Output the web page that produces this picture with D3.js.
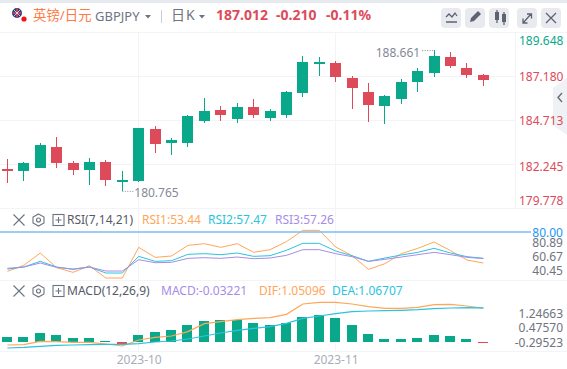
<!DOCTYPE html>
<html><head><meta charset="utf-8">
<script src="https://cdn.jsdelivr.net/npm/d3@7/dist/d3.min.js"></script>
<style>html,body{margin:0;padding:0;background:#fff;overflow:hidden}svg{display:block}text{font-family:"Noto Sans","Noto Sans CJK SC",sans-serif}</style>
</head><body><div id="c"></div>
<script>
const opens=[181.981,181.886,182.054,183.215,182.318,181.942,182.374,181.269,181.325,184.225,183.456,183.456,184.69,185.29,184.802,185.458,184.858,185.01,186.244,187.87,187.926,187.085,186.3,185.515,185.907,186.86,187.365,188.262,187.646,187.253];
const highs=[182.542,182.374,183.44,183.776,182.43,182.598,182.525,181.869,184.281,184.393,183.72,185.01,185.963,185.515,185.683,185.907,185.346,186.356,188.319,188.262,188.038,187.197,186.804,186.131,187.029,187.646,188.661,188.543,187.926,187.309];
const lows=[181.213,181.325,182.038,182.054,181.662,181.101,181.045,180.765,181.252,182.879,182.783,183.232,184.578,184.69,184.578,184.858,184.69,184.842,186.019,187.197,186.86,185.346,184.617,184.505,185.627,186.3,187.141,187.646,187.085,186.636];
const closes=[181.869,182.318,183.327,182.335,181.942,182.374,181.381,181.365,184.281,183.4,183.608,184.954,185.234,185.027,185.458,185.027,185.234,186.3,187.982,187.982,187.141,186.524,185.571,186.075,186.86,187.477,188.319,187.758,187.253,187.012];
const rsi1=[46.29,51.43,62,49.43,45.43,51.14,40.57,40.57,66.86,58.29,59.43,68.57,70,66.86,70,62.57,64.86,71.71,81.43,81.43,67.14,59.71,48,52.86,61.43,66,71.43,64,56,53.44];
const rsi2=[48.29,50,54.86,50,48,50,44.86,44.86,59.14,54.86,55.43,60.86,61.43,60.57,62,59.14,59.71,64.29,70.29,70.29,63.71,59.71,54.86,57.71,60.29,62.57,66,62,58.86,57.47];
const rsi3=[48.86,50,53.43,49.71,48.29,50,46.57,46.57,56.29,53.71,54,57.43,58,57.43,58.57,57.14,57.71,60,64.86,64.86,61.43,58.86,54.86,56.57,58.57,60.57,62.57,60.57,58.29,57.26];
const macdBars=[.156,.156,.281,.219,.125,.125,.031,-.0625,.219,.312,.375,.531,.656,.687,.687,.594,.531,.594,.781,.844,.75,.531,.25,.094,.094,.125,.219,.187,.094,-.032];
const dif=[-.094,-.083,.021,.01,-.01,-.01,-.0625,-.125,.0625,.146,.1875,.323,.573,.635,.698,.74,.76,.865,1.1875,1.24,1.24,1.1875,1.104,1.052,1.052,1.083,1.167,1.177,1.125,1.051];
const dea=[-.1875,-.167,-.135,-.104,-.094,-.083,-.073,-.073,-.052,0,.031,.094,.1875,.281,.365,.427,.479,.583,.74,.8125,.885,.948,.969,.979,.99,1.01,1.042,1.0625,1.073,1.067];
const priceTicks=[189.648,187.180,184.713,182.245,179.778];
const rsiTicks=[80.89,60.67,40.45];
const rsiLevel=80;
const macdTicks=[1.24663,0.47570,-0.29523];
const dateTickIndex=[8,20];
const dateTickLabels=["2023-10","2023-11"];

const W=567,H=369,GREEN="#0aa88a",RED="#dd4b5a",GRID="#f3f4f7",ORANGE="#ffa65a",CYAN="#2cc3de",PURPLE="#a78ce9",GREY="#6f7480";
const svg=d3.select("#c").append("svg").attr("width",W).attr("height",H);
svg.append("rect").attr("width",W).attr("height",3).attr("fill","#e6e9ee");

const x=d3.scaleLinear().domain([0,29]).range([7.4,483.4]);
const yP=d3.scaleLinear().domain([189.648,179.778]).range([32.5,208.5]);
const yR=d3.scaleLinear().domain([80,40]).range([232,278.7]);
const yRLabel=d3.scaleLinear().domain([80.89,40.45]).range([243,271]);
const yM=d3.scaleLinear().domain([0,1.0625]).range([342,308]);
const yMLabel=d3.scaleLinear().domain([1.24663,-0.29523]).range([313.5,342.5]);

// grid
const grid=svg.append("g").attr("stroke",GRID).attr("shape-rendering","crispEdges");
priceTicks.forEach(t=>grid.append("line").attr("x1",0).attr("x2",515).attr("y1",Math.floor(yP(t))+.5).attr("y2",Math.floor(yP(t))+.5));
[280.5,351.5].forEach(v=>grid.append("line").attr("x1",0).attr("x2",W).attr("y1",v).attr("y2",v));
grid.append("line").attr("x1",0).attr("x2",W).attr("y1",32.5).attr("y2",32.5);
grid.append("line").attr("x1",0).attr("x2",W).attr("y1",208.5).attr("y2",208.5);
dateTickIndex.forEach(i=>grid.append("line").attr("x1",Math.floor(x(i))+.5).attr("x2",Math.floor(x(i))+.5).attr("y1",33).attr("y2",351));
grid.append("line").attr("x1",515.5).attr("x2",515.5).attr("y1",33).attr("y2",208);

// side handle
svg.append("path").attr("d","M567,78L553,88V125L567,135Z").attr("fill","#f0f1f4");
svg.append("path").attr("d","M562,93L558,97.5L562,102").attr("fill","none").attr("stroke","#666c78").attr("stroke-width",1.4);

// candles
const candles=svg.append("g").attr("shape-rendering","crispEdges").selectAll("g").data(opens).join("g")
  .attr("fill",(d,i)=>closes[i]>=d?GREEN:RED);
candles.append("rect").attr("x",(d,i)=>Math.floor(x(i))).attr("width",1)
  .attr("y",(d,i)=>yP(highs[i])).attr("height",(d,i)=>yP(lows[i])-yP(highs[i]));
candles.append("rect").attr("x",(d,i)=>Math.floor(x(i))-5).attr("width",11)
  .attr("y",(d,i)=>yP(Math.max(d,closes[i]))).attr("height",(d,i)=>Math.max(1,Math.abs(yP(d)-yP(closes[i]))));

// high / low annotation
const hiI=d3.maxIndex(highs),loI=d3.minIndex(lows);
function dots(x1,x2,y){svg.append("line").attr("x1",x1).attr("x2",x2).attr("y1",y).attr("y2",y).attr("stroke","#8c909c").attr("stroke-dasharray","1 1.5");}
dots(x(hiI)-12,x(hiI),yP(highs[hiI])+.5);
dots(x(loI),x(loI)+12,yP(lows[loI])+.5);
svg.append("text").attr("x",x(hiI)-14).attr("y",yP(highs[hiI])+6.5).attr("text-anchor","end").attr("font-size",12).attr("fill","#858995").text(d3.format(".3f")(highs[hiI]));
svg.append("text").attr("x",x(loI)+12).attr("y",yP(lows[loI])+6.5).attr("font-size",12).attr("fill","#858995").text(d3.format(".3f")(lows[loI]));

// price axis
const priceShift=[8,0.5,0.5,2.5,-8];
const gP=svg.append("g").attr("transform","translate(519,0)").call(d3.axisRight(yP).tickValues(priceTicks).tickFormat(d3.format(".3f")).tickSize(0).tickPadding(0));
gP.select(".domain").remove();
gP.selectAll("text").attr("font-size",12).style("font-family",'"Noto Sans"').attr("fill",(d,i)=>i===0?GREEN:RED).attr("transform",(d,i)=>`translate(0,${priceShift[i]})`);

// RSI
function lineOf(vals,ys,color,w){svg.append("path").attr("fill","none").attr("stroke",color).attr("stroke-width",w)
  .attr("d",d3.line().x((d,i)=>x(i)).y(d=>ys(d))(vals));}
lineOf(rsi1,yR,ORANGE,1);lineOf(rsi2,yR,CYAN,1);lineOf(rsi3,yR,PURPLE,1);
svg.append("line").attr("x1",0).attr("x2",531).attr("y1",yR(rsiLevel)).attr("y2",yR(rsiLevel)).attr("stroke","#7cbcf0").attr("stroke-width",1.6);
svg.append("text").attr("x",563).attr("y",yR(rsiLevel)+4.5).attr("text-anchor","end").attr("font-size",12).attr("fill","#2196f3").text(d3.format(".2f")(rsiLevel));
const gR=svg.append("g").attr("transform","translate(563,0)").call(d3.axisLeft(yRLabel).tickValues(rsiTicks).tickFormat(d3.format(".2f")).tickSize(0).tickPadding(0));
gR.select(".domain").remove();gR.selectAll("text").attr("font-size",12).style("font-family",'"Noto Sans"').attr("fill",GREY);

// MACD
svg.append("g").attr("shape-rendering","crispEdges").selectAll("rect").data(macdBars).join("rect")
  .attr("x",(d,i)=>Math.floor(x(i))-5).attr("width",10)
  .attr("y",d=>d>=0?yM(d):yM(0)).attr("height",d=>Math.max(1,Math.abs(yM(d)-yM(0))))
  .attr("fill",d=>d>=0?GREEN:RED);
lineOf(dif,yM,ORANGE,1.2);lineOf(dea,yM,CYAN,1.2);
const gM=svg.append("g").attr("transform","translate(563,0)").call(d3.axisLeft(yMLabel).tickValues(macdTicks).tickFormat(d3.format(".5f")).tickSize(0).tickPadding(0));
gM.select(".domain").remove();gM.selectAll("text").attr("font-size",12).style("font-family",'"Noto Sans"').attr("fill",GREY);
gM.selectAll("text").text(d=>d3.format(".5f")(d).replace("−","-"));

// date axis
const gD=svg.append("g").attr("transform","translate(0,355)").call(d3.axisBottom(x).tickValues(dateTickIndex).tickFormat((d,i)=>dateTickLabels[i]).tickSize(0).tickPadding(0));
gD.select(".domain").remove();gD.selectAll("text").attr("font-size",12).style("font-family",'"Noto Sans"').attr("fill","#a9adb8");

// header
function txt(s,xx,y,size,fill,weight){return svg.append("text").attr("x",xx).attr("y",y).attr("font-size",size).attr("fill",fill).attr("font-weight",weight||400).text(s);}
svg.append("circle").attr("cx",17).attr("cy",13).attr("r",5).attr("fill","#2b3a7a");
svg.append("path").attr("d","M12.5,13H21.5M17,8.5V17.5").attr("stroke","#d9485a").attr("stroke-width",1.6);
svg.append("path").attr("d","M13.5,9.5L20.5,16.5M20.5,9.5L13.5,16.5").attr("stroke","#fff").attr("stroke-width",.7);
svg.append("circle").attr("cx",24).attr("cy",19).attr("r",2.6).attr("fill","#f5101c");
txt("英镑/日元",33,20,13.4,"#ff7a45");
txt("GBPJPY",95,21,13,"#6f7480");
svg.append("path").attr("d","M145,15h6l-3,3.5Z").attr("fill",GREY);
svg.append("rect").attr("x",161).attr("y",10).attr("width",1).attr("height",13).attr("fill","#c9ccd4");
txt("日K",171,20,14,"#6f7480").attr("letter-spacing",1);
svg.append("path").attr("d","M199,15h6l-3,3.5Z").attr("fill",GREY);
txt("187.012",216,20,14,RED,700);
txt("-0.210",276,20,14,RED,700);
txt("-0.11%",326,20,14,RED,700);

// buttons
const btnX=[441,465,489,517,541];
svg.append("g").selectAll("rect").data(btnX).join("rect").attr("x",d=>d).attr("y",8).attr("width",20).attr("height",20).attr("rx",4).attr("fill","#e8eaef");
const icon=svg.append("g").attr("fill","none").attr("stroke","#5d6370").attr("stroke-width",1.3);
icon.append("path").attr("d","M446,17l3,-3l3,3l3,-4l2,3M446,22H457");
svg.append("path").attr("d","M470,22l1,-4l7,-7l3,3l-7,7Z").attr("fill","#5d6370");
svg.append("g").attr("fill","#5d6370").selectAll("rect").data([495,502]).join("rect").attr("x",d=>d).attr("y",(d,i)=>i?14:12).attr("width",4).attr("height",8);
icon.append("path").attr("d","M497,10V23M504,12V25");
icon.append("path").attr("d","M523,23L531,14M527,14H531.5V18.5M523,18.5V23H527.5");
icon.append("path").attr("d","M546,13L556,23M556,13L546,23");

// pane headers
function paneIcons(cy){
  const g=svg.append("g").attr("fill","none").attr("stroke","#6b7280").attr("stroke-width",1.1);
  g.append("path").attr("d",`M13.5,${cy-5.5}L24.5,${cy+5.5}M24.5,${cy-5.5}L13.5,${cy+5.5}`);
  g.append("path").attr("d",`M38.5,${cy-6}L44,${cy-3}V${cy+3}L38.5,${cy+6}L33,${cy+3}V${cy-3}Z`);
  g.append("circle").attr("cx",38.5).attr("cy",cy).attr("r",2);
  g.append("rect").attr("x",53).attr("y",cy-5.5).attr("width",11).attr("height",11);
  g.append("path").attr("d",`M58.5,${cy-3}V${cy+3}M55.5,${cy}H61.5`);
}
paneIcons(220);paneIcons(291);
txt("RSI(7,14,21)",67,224,12,"#555a66");
txt("RSI1:53.44",142,224,12,ORANGE);
txt("RSI2:57.47",208,224,12,CYAN);
txt("RSI3:57.26",275,224,12,PURPLE);
txt("MACD(12,26,9)",67,295,12,"#555a66");
txt("MACD:-0.03221",161,295,12,PURPLE);
txt("DIF:1.05096",259,295,12,ORANGE);
txt("DEA:1.06707",332,295,12,CYAN);
</script></body></html>
